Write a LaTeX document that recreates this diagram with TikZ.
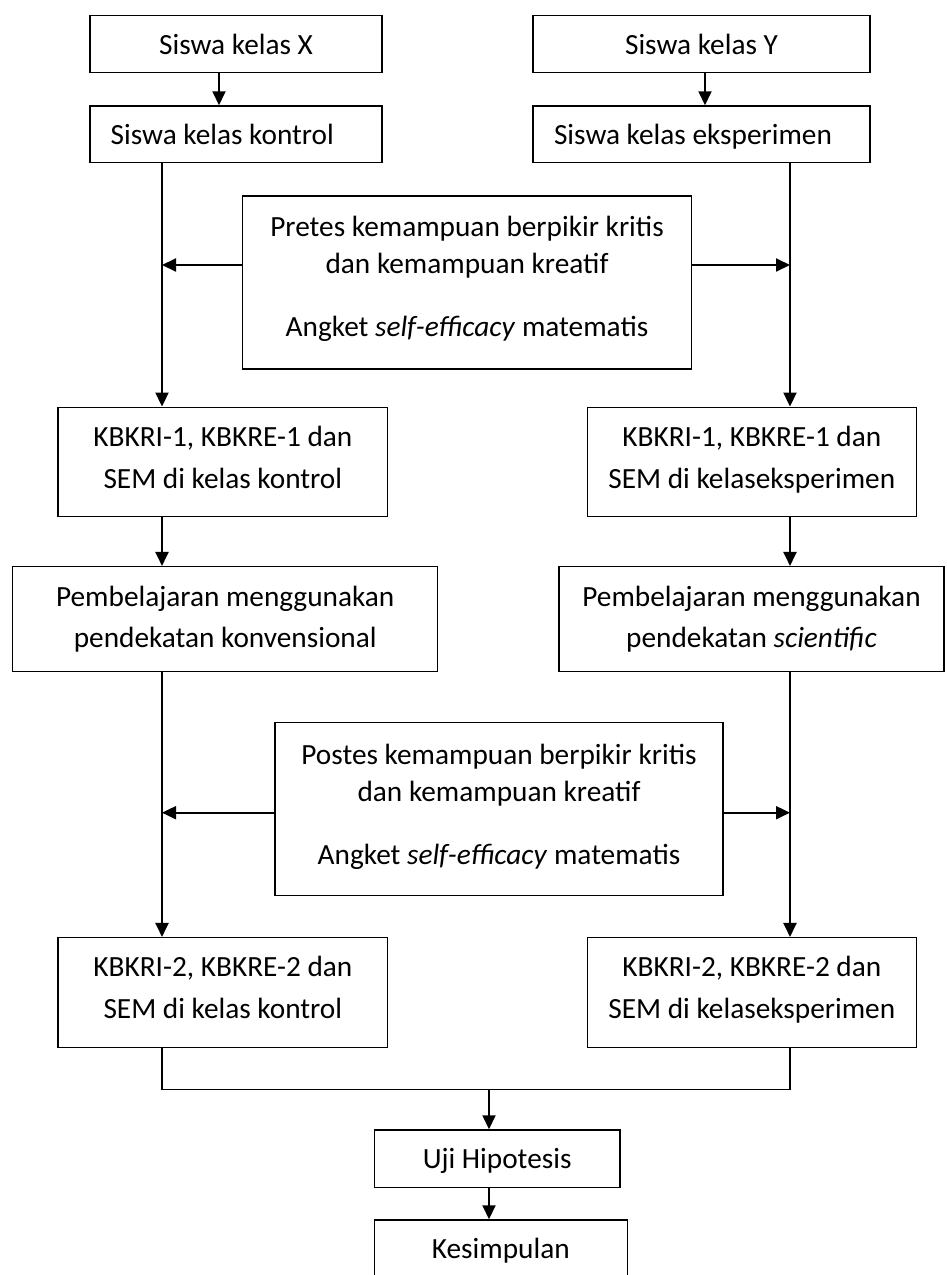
\documentclass[tikz,border=0pt]{standalone}
\usepackage{fontspec}
\setmainfont{Carlito}
\usetikzlibrary{arrows.meta}
\newcommand{\dn}[1]{\rule[-#1]{0pt}{#1}}
\begin{document}
\begin{tikzpicture}[x=1pt,y=-1pt,
  box/.style={draw, line width=1.5pt, inner sep=0pt, align=center,
    font=\fontsize{29.3}{41.7}\selectfont},
  bigbox/.style={box, font=\fontsize{29.3}{37}\selectfont},
  arr/.style={-{Triangle[width=13pt,length=14pt]}, line width=2pt},
  ln/.style={line width=1.5pt}]
\clip (0,0) rectangle (946,1275);
\fill[white] (0,0) rectangle (946,1275);

% columns / rows
\coordinate (cL) at (162,0);
\coordinate (cR) at (790,0);
\coordinate (cX) at (219,0);
\coordinate (cY) at (705,0);
\coordinate (cM) at (489,0);
\coordinate (pa) at (0,265);
\coordinate (qa) at (0,812.7);
\coordinate (mg) at (489,1089.3);

\node[box, minimum width=292pt, minimum height=56.6pt, text depth=0pt] (sx) at (236,44) {Siswa kelas X};
\node[box, minimum width=337pt, minimum height=56.6pt, text depth=0pt] (sy) at (701.5,44) {Siswa kelas Y};
\node[box, align=flush left, text width=250.6pt, inner xsep=20.7pt, minimum height=56.7pt, text depth=0pt] (kon) at (236,134.35) {Siswa kelas kontrol};
\node[box, align=flush left, text width=295pt, inner xsep=21pt, minimum height=56.7pt, text depth=0pt] (eks) at (701.5,134.35) {Siswa kelas eksperimen};

\node[bigbox, minimum width=448.6pt, minimum height=173pt] (pre) at (467,282.5)
  {Pretes kemampuan berpikir kritis\\dan kemampuan kreatif\\[26.3pt]Angket \textit{self-efficacy} matematis\dn{12.6pt}};

\node[box, minimum width=329.7pt, minimum height=109.4pt] (k1L) at (222.85,462) {KBKRI-1, KBKRE-1 dan\\SEM di kelas kontrol\dn{9.4pt}};
\node[box, minimum width=329pt, minimum height=109.4pt] (k1R) at (751.8,462) {KBKRI-1, KBKRE-1 dan\\SEM di kelaseksperimen\dn{9.4pt}};

\node[box, minimum width=425pt, minimum height=105pt] (pL) at (225.2,619.2) {Pembelajaran menggunakan\\pendekatan konvensional};
\node[box, minimum width=385pt, minimum height=105pt] (pR) at (751.5,619.2) {Pembelajaran menggunakan\\pendekatan \textit{scientific}};

\node[bigbox, minimum width=448pt, minimum height=173.4pt] (post) at (499,809)
  {Postes kemampuan berpikir kritis\\dan kemampuan kreatif\\[26.3pt]Angket \textit{self-efficacy} matematis\dn{9pt}};

\node[box, minimum width=329.7pt, minimum height=109.6pt] (k2L) at (222.85,992.5) {KBKRI-2, KBKRE-2 dan\\SEM di kelas kontrol\dn{10pt}};
\node[box, minimum width=329pt, minimum height=109.6pt] (k2R) at (751.8,992.5) {KBKRI-2, KBKRE-2 dan\\SEM di kelaseksperimen\dn{10pt}};

\node[box, minimum width=245.7pt, minimum height=57.3pt, text depth=0pt] (uji) at (497.15,1158.65) {Uji Hipotesis};
\node[box, minimum width=253pt, minimum height=57.3pt, text depth=0pt] (kes) at (500.8,1248.65) {Kesimpulan};

% connectors
\draw[arr] (sx.south -| cX) -- (kon.north -| cX);
\draw[arr] (sy.south -| cY) -- (eks.north -| cY);
\draw[arr] (kon.south -| cL) -- (k1L.north -| cL);
\draw[arr] (eks.south -| cR) -- (k1R.north -| cR);
\draw[arr] (pre.west |- pa) -- (cL |- pa);
\draw[arr] (pre.east |- pa) -- (cR |- pa);
\draw[arr] (k1L.south -| cL) -- (pL.north -| cL);
\draw[arr] (k1R.south -| cR) -- (pR.north -| cR);
\draw[arr] (pL.south -| cL) -- (k2L.north -| cL);
\draw[arr] (pR.south -| cR) -- (k2R.north -| cR);
\draw[arr] (post.west |- qa) -- (cL |- qa);
\draw[arr] (post.east |- qa) -- (cR |- qa);
\draw[ln] (k2L.south -| cL) |- (mg) -| (k2R.south -| cR);
\draw[arr] (mg) -- (uji.north -| cM);
\draw[arr] (uji.south -| cM) -- (kes.north -| cM);
\end{tikzpicture}
\end{document}
